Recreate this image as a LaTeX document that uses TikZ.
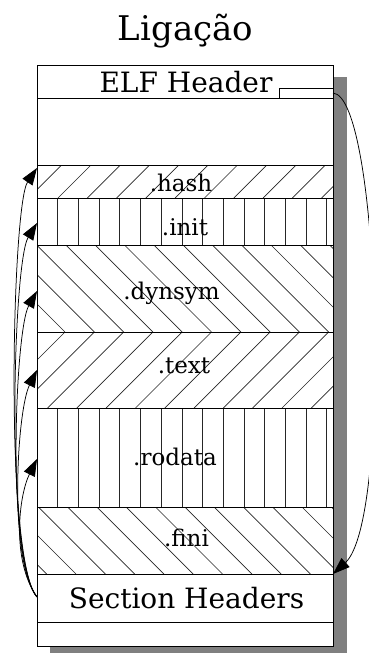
\documentclass[tikz,border=0pt]{standalone}
\usepackage{fontspec}
\setmainfont{DejaVu Serif}
\usetikzlibrary{arrows.meta}
\begin{document}
\begin{tikzpicture}[x=1pt,y=-1pt,
  hatch/.style={line width=0.65pt, black!85},
  sep/.style={line width=0.9pt, black},
  link/.style={line width=0.75pt, black, -{Triangle[length=17pt,width=12pt]}},
  lbl/.style={anchor=base, inner sep=0pt, font=\fontsize{23}{23}\selectfont},
  big/.style={anchor=base, inner sep=0pt, font=\fontsize{28}{28}\selectfont}]
\useasboundingbox (0,0) rectangle (368,653);
% shadow and body
\fill[black!50] (50,77) rectangle (347,660);
\fill[white] (37,65) rectangle (333,646);
% .hash  "/"
\begin{scope}
\clip (37,165) rectangle (333,198);
\foreach \k in {-2,...,12} {\pgfmathsetmacro\c{226.7+29.3*\k}
  \draw[hatch] ({\c-198},198) -- ({\c-165},165);}
\end{scope}
% .init verticals
\foreach \k in {1,...,14} \draw[hatch] ({37+20.7*\k},198) -- ({37+20.7*\k},245);
% .dynsym "\"
\begin{scope}
\clip (37,245) rectangle (333,332);
\foreach \k in {-2,...,14} {\pgfmathsetmacro\d{-267+29.3*\k}
  \draw[hatch] ({\d+245},245) -- ({\d+332},332);}
\end{scope}
% .text "/"
\begin{scope}
\clip (37,332) rectangle (333,408);
\foreach \k in {-2,...,13} {\pgfmathsetmacro\c{397+29.3*\k}
  \draw[hatch] ({\c-408},408) -- ({\c-332},332);}
\end{scope}
% .rodata verticals
\foreach \k in {1,...,14} \draw[hatch] ({37+20.7*\k},408) -- ({37+20.7*\k},507);
% .fini "\"
\begin{scope}
\clip (37,507) rectangle (333,574);
\foreach \k in {-3,...,11} {\pgfmathsetmacro\d{-468.7+29.3*\k}
  \draw[hatch] ({\d+507},507) -- ({\d+574},574);}
\end{scope}
% separators
\foreach \y in {98,165,198,245,332,408,507,574,622} \draw[sep] (37,\y) -- (333,\y);
\draw[line width=0.7pt] (333,88) -- (279,88) -- (279,98);
\draw[line width=1pt] (37,65) rectangle (333,646);
% labels
\node[font=\fontsize{34}{34}\selectfont, anchor=base, inner sep=0pt] (title) at (185.5,40) {Ligação};
\node[big] (elf) at (186,92) {ELF Header};
\node[big] (sh) at (186.5,608) {Section Headers};
\node[lbl] (hash) at (181,191.5) {.hash};
\node[lbl] (init) at (185,235) {.init};
\node[lbl] (dynsym) at (171.5,299) {.dynsym};
\node[lbl] (text) at (184,373) {.text};
\node[lbl] (rodata) at (175,465) {.rodata};
\node[lbl] (fini) at (186.5,546.5) {.fini};
% connector ends
\coordinate (shW) at (37,597);
\coordinate (shNE) at (333,574);
\coordinate (elfOut) at (333,93);
\coordinate (tHash) at (37,168);
\coordinate (tInit) at (37,223);
\coordinate (tDyn) at (37,291);
\coordinate (tText) at (37,370);
\coordinate (tRo) at (37,459);
% connectors
\draw[link] (elfOut) .. controls (380,96) and (392,520) .. (shNE);
\draw[link] (shW) .. controls (4,560) and (12,205) .. (tHash);
\draw[link] (shW) .. controls (5,560) and (13,262) .. (tInit);
\draw[link] (shW) .. controls (6,560) and (15,330) .. (tDyn);
\draw[link] (shW) .. controls (8,560) and (17,410) .. (tText);
\draw[link] (shW) .. controls (11,560) and (19,495) .. (tRo);
\end{tikzpicture}
\end{document}
